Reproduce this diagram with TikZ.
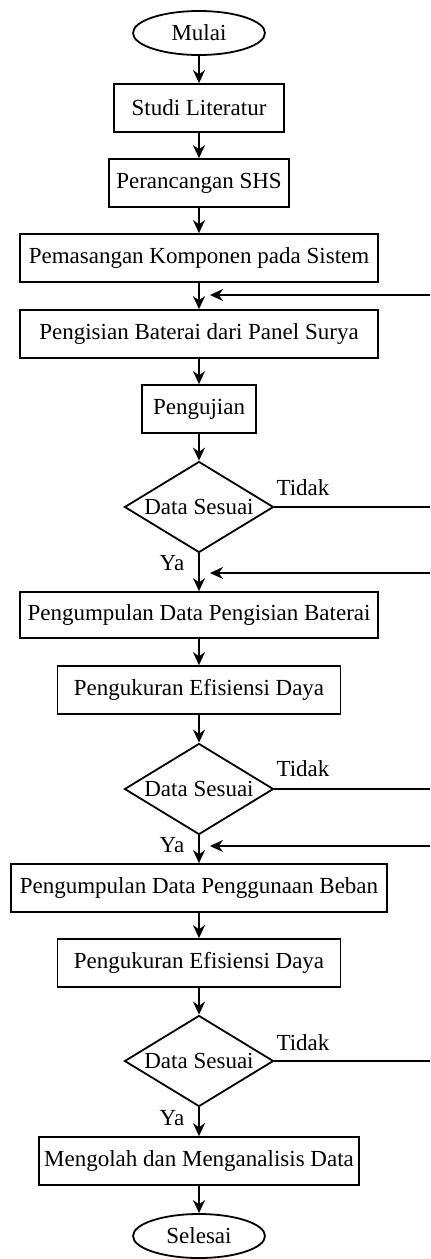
\documentclass[tikz,border=0pt]{standalone}
\usepackage{fontspec}
\setmainfont{Liberation Serif}
\usepackage{tikz}
\usetikzlibrary{shapes.geometric}
\usetikzlibrary{arrows.meta}

\tikzset{
  box/.style = {draw, line width=0.9pt, rectangle, inner sep=0pt, minimum height=24pt},
  term/.style = {draw, line width=0.9pt, ellipse, inner sep=0pt, minimum width=66pt, minimum height=22pt},
  cek/.style = {draw, line width=0.9pt, diamond, aspect=1.64, inner sep=0pt, minimum width=74.5pt, minimum height=45.5pt},
  alir/.style = {->, >={Stealth[length=6.5pt,width=6pt]}, line width=0.9pt},
  garis/.style = {line width=0.9pt}
}

\begin{document}
\begin{tikzpicture}[x=0.5pt, y=-0.5pt, font=\fontsize{11.5pt}{13pt}\selectfont]
\useasboundingbox (0,0) rectangle (430,1259);
\node[term] (mulai) at (199,33) {Mulai};
\node[box, minimum width=85pt] (studi) at (199,108) {Studi Literatur};
\node[box, minimum width=90pt] (rancang) at (199,183) {Perancangan SHS};
\node[box, minimum width=179pt] (pasang) at (199,258) {Pemasangan Komponen pada Sistem};
\node[box, minimum width=179pt] (isi) at (199,334) {Pengisian Baterai dari Panel Surya};
\node[box, minimum width=57pt] (uji) at (199,409) {Pengujian};
\node[cek] (cek1) at (199,507) {Data Sesuai};
\node[box, minimum width=179pt, minimum height=23pt] (kumpul1) at (199,615) {Pengumpulan Data Pengisian Baterai};
\node[box, minimum width=141.5pt] (ukur1) at (199,690) {Pengukuran Efisiensi Daya};
\node[cek] (cek2) at (199,789) {Data Sesuai};
\node[box, minimum width=188pt] (kumpul2) at (199,888) {Pengumpulan Data Penggunaan Beban};
\node[box, minimum width=141.5pt] (ukur2) at (199,963) {Pengukuran Efisiensi Daya};
\node[cek] (cek3) at (199,1061) {Data Sesuai};
\node[box, minimum width=160pt] (olah) at (199,1161) {Mengolah dan Menganalisis Data};
\node[term] (selesai) at (199,1236) {Selesai};

% alur utama
\draw[alir] (mulai) -- (studi);
\draw[alir] (studi) -- (rancang);
\draw[alir] (rancang) -- (pasang);
\draw[alir] (pasang) -- (isi);
\draw[alir] (isi) -- (uji);
\draw[alir] (uji) -- (cek1);
\draw[alir] (cek1) -- (kumpul1);
\draw[alir] (kumpul1) -- (ukur1);
\draw[alir] (ukur1) -- (cek2);
\draw[alir] (cek2) -- (kumpul2);
\draw[alir] (kumpul2) -- (ukur2);
\draw[alir] (ukur2) -- (cek3);
\draw[alir] (cek3) -- (olah);
\draw[alir] (olah) -- (selesai);

% cabang tidak dan arah balik
\coordinate (r1) at (430,295);
\coordinate (t1) at (210,295);
\coordinate (r2) at (430,573);
\coordinate (t2) at (210,573);
\coordinate (r3) at (430,846);
\coordinate (t3) at (210,846);
\draw[alir] (r1) -- (t1);
\draw[alir] (r2) -- (t2);
\draw[alir] (r3) -- (t3);
\draw[garis] (cek1.east) -- (cek1.east -| r1);
\draw[garis] (cek2.east) -- (cek2.east -| r1);
\draw[garis] (cek3.east) -- (cek3.east -| r1);

\node (tidak1) at (303,488) {Tidak};
\node (tidak2) at (303,769) {Tidak};
\node (tidak3) at (303,1043) {Tidak};
\node (ya1) at (172,563) {Ya};
\node (ya2) at (172,845) {Ya};
\node (ya3) at (172,1118) {Ya};
\end{tikzpicture}
\end{document}
